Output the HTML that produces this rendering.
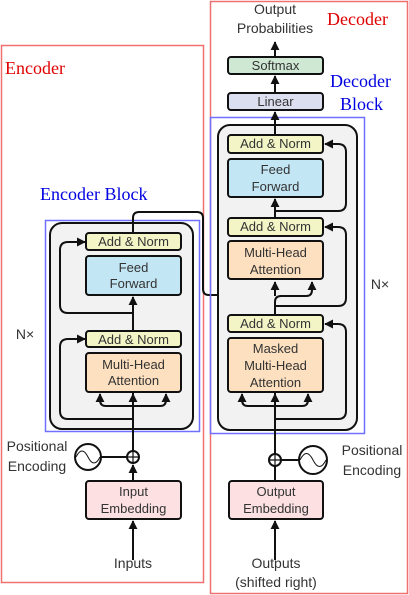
<!DOCTYPE html>
<html><head><style>
html,body{margin:0;padding:0;background:#fff;}
svg{display:block;}
text{font-family:"Liberation Sans",sans-serif;font-size:13px;fill:#333;text-anchor:middle;}
.s{font-family:"Liberation Serif",serif;font-size:18px;text-anchor:start;}
.b{stroke:#111;stroke-width:2;}
.l{fill:none;stroke:#111;stroke-width:2;}
</style></head><body>
<svg width="409" height="595" viewBox="0 0 409 595" xmlns="http://www.w3.org/2000/svg">
<defs><marker id="a" viewBox="0 0 10 10" refX="9" refY="5" markerWidth="4.5" markerHeight="4.5" orient="auto"><path d="M0,0 L10,5 L0,10 z" fill="#111"/></marker></defs>
<rect x="1.5" y="45.5" width="202" height="537" fill="none" stroke="#f07070" stroke-width="1.5"/>
<rect x="210.5" y="1.5" width="197" height="592" fill="none" stroke="#f07070" stroke-width="1.5"/>
<text class="s" x="5" y="74" style="fill:#e00000">Encoder</text>
<text class="s" x="327" y="25" style="fill:#e00000">Decoder</text>
<text class="s" x="40" y="200" style="fill:#0000e0">Encoder  Block</text>
<text class="s" x="330" y="87" style="fill:#0000e0">Decoder</text>
<text class="s" x="340" y="110" style="fill:#0000e0">Block</text>

<!-- ENCODER -->
<rect x="50" y="223" width="143" height="206" rx="12" fill="#f2f2f2" class="b"/>
<rect x="45.5" y="220.5" width="154" height="211" fill="none" stroke="#7070ff" stroke-width="1.5"/>
<path class="l" d="M133,560 V521" marker-end="url(#a)"/>
<path class="l" d="M133,481 V465" marker-end="url(#a)"/>
<path class="l" d="M133,451 V392"/>
<path class="l" d="M133,406 H106 q-6,0 -6,-6 V394" marker-end="url(#a)"/>
<path class="l" d="M133,406 H160 q6,0 6,-6 V394" marker-end="url(#a)"/>
<path class="l" d="M133,406 V394" marker-end="url(#a)"/>
<path class="l" d="M133,419 H68 q-8,0 -8,-8 V347 q0,-8 8,-8 H85" marker-end="url(#a)"/>
<path class="l" d="M133,347 V297" marker-end="url(#a)"/>
<path class="l" d="M133,313 H68 q-8,0 -8,-8 V250 q0,-8 8,-8 H85" marker-end="url(#a)"/>
<path class="l" d="M133,233 V218 q0,-6 6,-6 H197 q6,0 6,6 V289 q0,6 6,6 H234 q6,0 6,-6 V282" marker-end="url(#a)"/>
<rect x="86" y="233" width="95" height="17" rx="3" fill="#f3f5c6" class="b"/>
<text x="133.5" y="246">Add &amp; Norm</text>
<rect x="86" y="256" width="95" height="39" rx="3" fill="#c3e6f5" class="b"/>
<text x="133.5" y="272">Feed</text><text x="133.5" y="288">Forward</text>
<rect x="86" y="331" width="95" height="16" rx="3" fill="#f3f5c6" class="b"/>
<text x="133.5" y="344">Add &amp; Norm</text>
<rect x="86" y="353" width="95" height="39" rx="3" fill="#fde0bf" class="b"/>
<text x="133.5" y="369">Multi-Head</text><text x="133.5" y="385">Attention</text>
<text x="25" y="339" style="font-size:14px">N×</text>
<circle cx="133" cy="457" r="6" fill="#fff" class="b" stroke-width="1.5"/>
<path d="M127,457 H139 M133,451 V463" stroke="#111" stroke-width="1.2"/>
<path class="l" d="M101,457 H127" stroke-width="1.5"/>
<circle cx="88" cy="457" r="13" fill="#fff" class="b" stroke-width="1.5"/>
<path d="M76,457 q6,-12 12,0 q6,12 12,0" fill="none" stroke="#111" stroke-width="1"/>
<text x="37" y="451" style="font-size:14px">Positional</text>
<text x="37" y="471" style="font-size:14px">Encoding</text>
<rect x="86" y="481" width="95" height="38" rx="3" fill="#fce0e2" class="b"/>
<text x="133.5" y="496">Input</text><text x="133.5" y="513">Embedding</text>
<text x="133" y="568" style="font-size:14px">Inputs</text>

<!-- DECODER -->
<rect x="218" y="125" width="139" height="305" rx="12" fill="#f2f2f2" class="b"/>
<rect x="210.5" y="117.5" width="154" height="316" fill="none" stroke="#7070ff" stroke-width="1.5"/>
<path class="l" d="M275,560 V521" marker-end="url(#a)"/>
<path class="l" d="M275,481 V466"/>
<path class="l" d="M275,454 V392"/>
<path class="l" d="M275,406 H248 q-6,0 -6,-6 V394" marker-end="url(#a)"/>
<path class="l" d="M275,406 H302 q6,0 6,-6 V394" marker-end="url(#a)"/>
<path class="l" d="M275,406 V394" marker-end="url(#a)"/>
<path class="l" d="M275,419 H338 q8,0 8,-8 V332 q0,-8 -8,-8 H325" marker-end="url(#a)"/>
<path class="l" d="M275,332 V302 q0,-6 6,-6 H306 q6,0 6,-6 V282" marker-end="url(#a)"/>
<path class="l" d="M275,296 V282" marker-end="url(#a)"/>
<path class="l" d="M275,306 H338 q8,0 8,-8 V235 q0,-8 -8,-8 H325" marker-end="url(#a)"/>
<path class="l" d="M275,236 V199" marker-end="url(#a)"/>
<path class="l" d="M275,211 H338 q8,0 8,-8 V152 q0,-8 -8,-8 H325" marker-end="url(#a)"/>
<path class="l" d="M275,135 V112" marker-end="url(#a)"/>
<path class="l" d="M275,93 V76" marker-end="url(#a)"/>
<path class="l" d="M275,57 V42" marker-end="url(#a)"/>
<rect x="228" y="135" width="95" height="18" rx="3" fill="#f3f5c6" class="b"/>
<text x="275.5" y="148">Add &amp; Norm</text>
<rect x="228" y="159" width="95" height="38" rx="3" fill="#c3e6f5" class="b"/>
<text x="275.5" y="174">Feed</text><text x="275.5" y="191">Forward</text>
<rect x="228" y="218" width="95" height="18" rx="3" fill="#f3f5c6" class="b"/>
<text x="275.5" y="231">Add &amp; Norm</text>
<rect x="228" y="241" width="95" height="38" rx="3" fill="#fde0bf" class="b"/>
<text x="275.5" y="257">Multi-Head</text><text x="275.5" y="274">Attention</text>
<rect x="228" y="315" width="95" height="17" rx="3" fill="#f3f5c6" class="b"/>
<text x="275.5" y="328">Add &amp; Norm</text>
<rect x="228" y="338" width="95" height="54" rx="3" fill="#fde0bf" class="b"/>
<text x="275.5" y="353">Masked</text><text x="275.5" y="370">Multi-Head</text><text x="275.5" y="387">Attention</text>
<text x="380" y="289" style="font-size:14px">N×</text>
<rect x="228" y="93" width="95" height="17" rx="3" fill="#dcdff0" class="b"/>
<text x="275.5" y="106">Linear</text>
<rect x="228" y="57" width="95" height="17" rx="3" fill="#cfe8d3" class="b"/>
<text x="275.5" y="70">Softmax</text>
<text x="275" y="14" style="font-size:14px">Output</text>
<text x="275" y="33" style="font-size:14px">Probabilities</text>
<circle cx="275" cy="460" r="6" fill="#fff" class="b" stroke-width="1.5"/>
<path d="M269,460 H281 M275,454 V466" stroke="#111" stroke-width="1.2"/>
<path class="l" d="M281,460 H299" stroke-width="1.5"/>
<circle cx="313" cy="460" r="14" fill="#fff" class="b" stroke-width="1.5"/>
<path d="M300,460 q6.5,-13 13,0 q6.5,13 13,0" fill="none" stroke="#111" stroke-width="1"/>
<text x="372" y="455" style="font-size:14px">Positional</text>
<text x="372" y="475" style="font-size:14px">Encoding</text>
<rect x="229" y="481" width="94" height="38" rx="3" fill="#fce0e2" class="b"/>
<text x="276" y="496">Output</text><text x="276" y="513">Embedding</text>
<text x="276" y="568" style="font-size:14px">Outputs</text>
<text x="276" y="587" style="font-size:14px">(shifted right)</text>
</svg>
</body></html>
